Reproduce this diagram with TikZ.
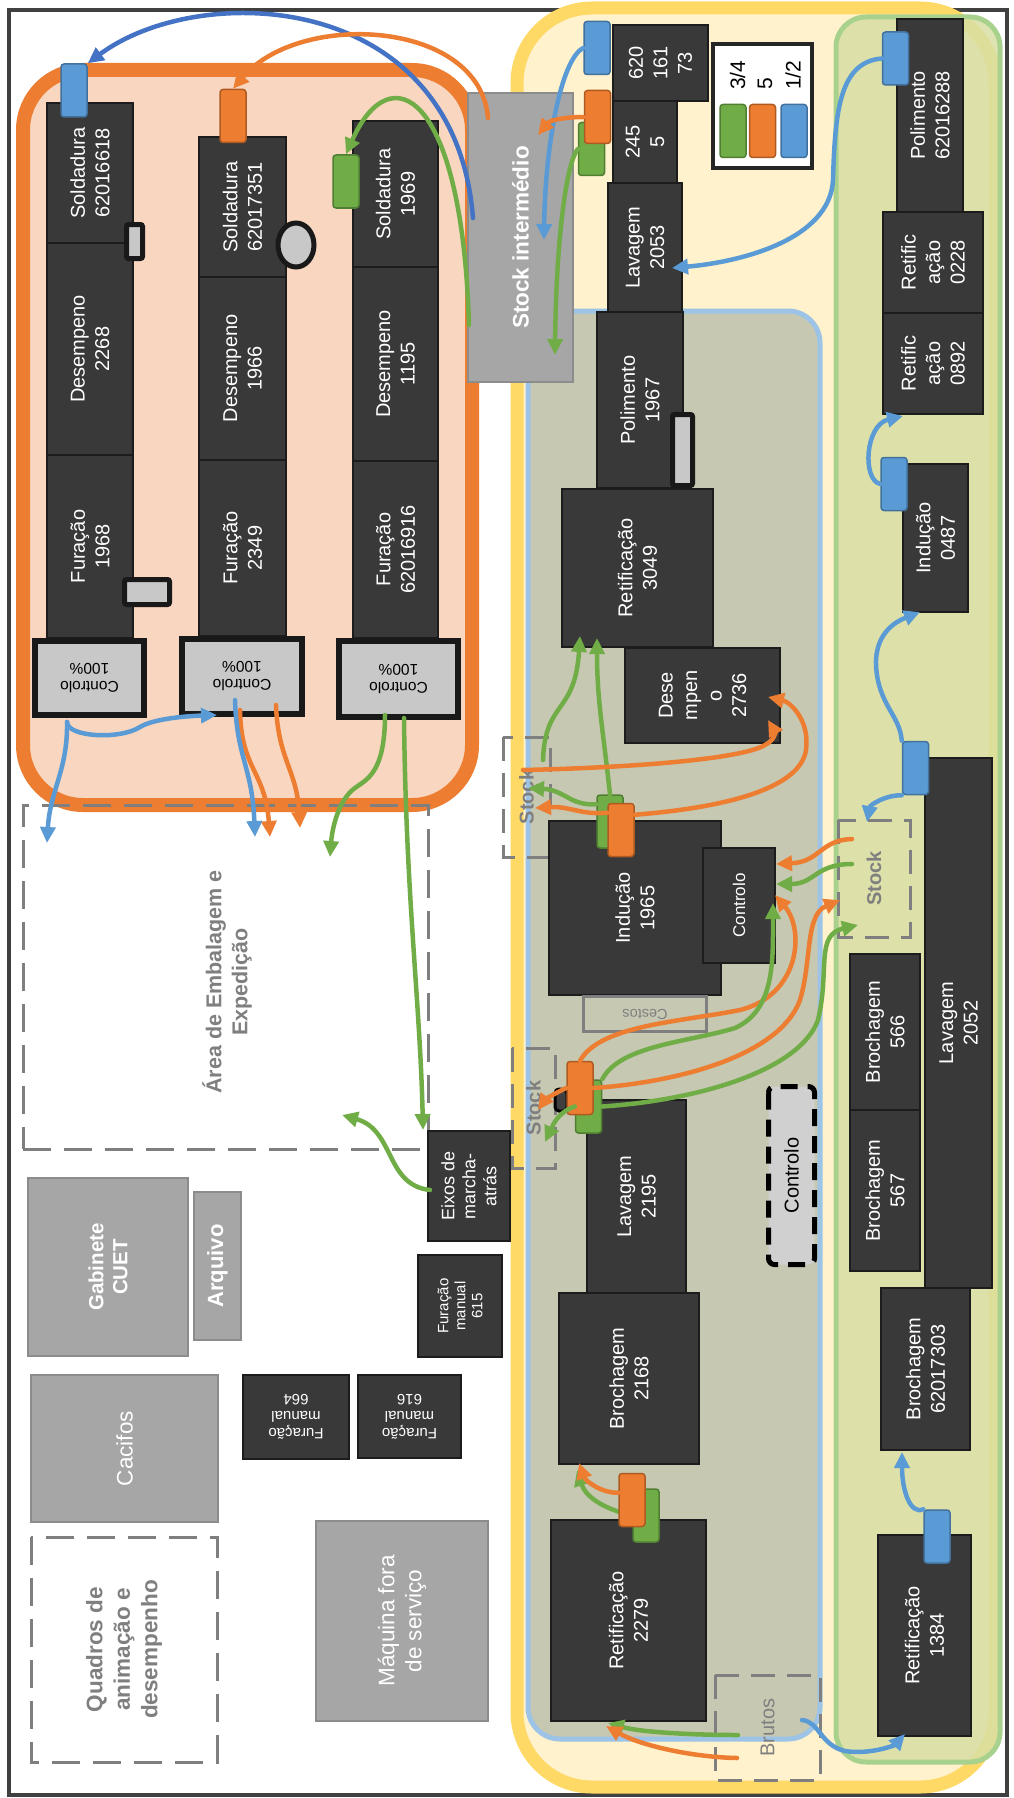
\documentclass[tikz,border=0pt]{standalone}
\usepackage{fontspec}
\setmainfont{Liberation Sans}
\usetikzlibrary{arrows.meta,shapes.geometric}
\definecolor{mfill}{HTML}{393939}
\definecolor{mline}{HTML}{1C1C1C}
\definecolor{framecol}{HTML}{404040}
\definecolor{orgline}{HTML}{ED7D31}
\definecolor{orgfill}{HTML}{F8D6BF}
\definecolor{yelline}{HTML}{FFD966}
\definecolor{yelfill}{HTML}{FFF2CC}
\definecolor{bluline}{HTML}{9DC3E6}
\definecolor{blufill}{HTML}{C6C8B2}
\definecolor{grnline}{HTML}{A9D18E}
\definecolor{grnfill}{HTML}{D8DFA4}
\definecolor{cblue}{HTML}{5B9BD5}
\definecolor{cdblue}{HTML}{4472C4}
\definecolor{corange}{HTML}{ED7D31}
\definecolor{cgreen}{HTML}{70AD47}
\definecolor{tagbline}{HTML}{41719C}
\definecolor{tagoline}{HTML}{AE5A21}
\definecolor{taggline}{HTML}{507E32}
\definecolor{grayfill}{HTML}{A6A6A6}
\definecolor{grayline}{HTML}{8C8C8C}
\definecolor{dashgray}{HTML}{7F7F7F}
\definecolor{ctrlfill}{HTML}{C8C8C8}

\begin{document}
\begin{tikzpicture}[x=1pt,y=-1pt,
mbase/.style={draw=mline,fill=mfill,line width=1.5pt,text=white,align=center,inner sep=0pt,font=\fontsize{20}{24.5}\selectfont},
mach/.style={mbase,rotate=90},
machflip/.style={mbase,rotate=180,font=\fontsize{15}{17}\selectfont},
wh/.style 2 args={minimum height=#1,minimum width=#2},
ctrl/.style={draw=black!90,fill=ctrlfill,line width=6pt,rotate=180,align=center,inner sep=0pt,font=\fontsize{15.5}{18}\selectfont},
graybox/.style={draw=grayline,fill=grayfill,line width=2.5pt,rotate=90,text=white,align=center,inner sep=0pt,font=\fontsize{22.5}{27}\selectfont},
marker/.style={draw=black!90,fill=ctrlfill,line width=5pt,rounded corners=2pt,inner sep=0pt},
dashbox/.style={draw=dashgray,line width=3pt,dash pattern=on 28pt off 13pt,inner sep=0pt},
stockbox/.style={dashbox,rotate=90,text=dashgray,dash pattern=on 24pt off 12pt,font=\fontsize{20}{24}\selectfont\bfseries},
tag/.style={rounded corners=3pt,line width=1.5pt,minimum width=26,minimum height=53,inner sep=0pt},
tagb/.style={tag,fill=cblue,draw=tagbline},
tago/.style={tag,fill=corange,draw=tagoline},
tagg/.style={tag,fill=cgreen,draw=taggline},
flow/.style={line width=4.5pt,line cap=round,-{Triangle[length=16pt,width=15pt]}},
fb/.style={flow,cblue},fo/.style={flow,corange},fg/.style={flow,cgreen}]
\useasboundingbox (0,0) rectangle (1014,1798);
\fill[white] (0,0) rectangle (1014,1798);
\draw[framecol,line width=4pt] (9,10) rectangle (1007,1795);

\draw[draw=orgline,fill=orgfill,line width=14pt,rounded corners=60pt] (23,70) rectangle (472,805);
\draw[draw=yelline,fill=yelfill,line width=13pt,rounded corners=75pt] (517,8) rectangle (995,1787);
\draw[draw=bluline,fill=blufill,line width=5pt,rounded corners=32pt] (528,311) rectangle (820,1739);
\draw[draw=grnline,fill=grnfill,fill opacity=.85,line width=5pt,rounded corners=30pt] (836,17) rectangle (1000,1762);

\node[dashbox,minimum width=405,minimum height=344] (embal) at (225.5,977) {};
\node[rotate=90,align=center,text=dashgray,font=\fontsize{21.5}{26}\selectfont\bfseries] (embaltxt) at (227,982) {Área de Embalagem e\\Expedição};
\node[dashbox,rotate=90,wh={186}{225},align=center,text=dashgray,font=\fontsize{22.5}{27.5}\selectfont\bfseries] (quadros) at (124,1649.5) {Quadros de\\animação e\\desempenho};
\node[stockbox,wh={47}{120}] (stk1) at (526.5,797) {Stock};
\node[stockbox,wh={43}{120}] (stk2) at (533.5,1108) {Stock};
\node[stockbox,wh={72}{117}] (stk3) at (874,878.5) {Stock};
\node[stockbox,wh={105}{105},font=\fontsize{20}{24}\selectfont] (brutos) at (767.5,1727.5) {Brutos};

\node[mach,wh={86}{140}] (sold1) at (90,173) {Soldadura\\62016618};
\node[mach,wh={86}{212}] (dese1) at (90,349) {Desempeno\\2268};
\node[mach,wh={86}{183}] (fura1) at (90,546.5) {Furação\\1968};
\node[ctrl,minimum width=109,minimum height=74] (ctrl1) at (89.5,678) {Controlo\\100\%};
\node[mach,wh={87}{140}] (sold2) at (242.5,207) {Soldadura\\62017351};
\node[mach,wh={87}{183}] (dese2) at (242.5,368.5) {Desempeno\\1966};
\node[mach,wh={87}{176}] (fura2) at (242.5,548) {Furação\\2349};
\node[ctrl,minimum width=120,minimum height=75] (ctrl2) at (242,676.5) {Controlo\\100\%};
\node[mach,wh={85}{146}] (sold3) at (395.5,194) {Soldadura\\1969};
\node[mach,wh={85}{194}] (dese3) at (395.5,364) {Desempeno\\1195};
\node[mach,wh={85}{177}] (fura3) at (395.5,549.5) {Furação\\62016916};
\node[ctrl,minimum width=119,minimum height=76] (ctrl3) at (398.5,679) {Controlo\\100\%};
\node[marker,minimum width=16,minimum height=34] (mk1) at (134.5,241.5) {};
\node[marker,ellipse,minimum width=36,minimum height=44] (mk2) at (296,245) {};
\node[marker,minimum width=45,minimum height=25] (mk3) at (147,592) {};
\node[graybox,wh={105}{289},font=\fontsize{22.5}{27}\selectfont\bfseries] (stockint) at (520.5,237.5) {Stock intermédio};

\node[mach,wh={95}{76}] (m62016173) at (660.5,63) {620\\161\\73};
\node[mach,wh={64}{82}] (m2455) at (645,142) {245\\5};
\node[mach,wh={74}{129}] (lav2053) at (645,247.5) {Lavagem\\2053};
\node[mach,wh={86}{176}] (pol1967) at (640,400) {Polimento\\1967};
\node[marker,minimum width=20,minimum height=71] (mk4) at (682.5,450) {};
\node[mach,wh={151}{158}] (ret3049) at (637.5,568) {Retificação\\3049};
\node[mach,wh={155}{95}] (des2736) at (702.5,695.5) {Dese\\mpen\\o\\2736};
\node[mach,wh={172}{174}] (ind1965) at (635,908) {Indução\\1965};
\node[mach,wh={72}{115},font=\fontsize{17}{20}\selectfont] (ctrlsm) at (739,905.5) {Controlo};
\node[draw=dashgray,line width=3pt,rotate=180,minimum width=123,minimum height=35,inner sep=0pt,text=dashgray,font=\fontsize{14.5}{17}\selectfont] (cestos) at (645,1014) {Cestos};
\node[mach,wh={99}{193}] (lav2195) at (636.5,1196.5) {Lavagem\\2195};
\node[mach,wh={140}{171}] (bro2168) at (629,1378.5) {Brochagem\\2168};
\node[mach,wh={155}{201}] (ret2279) at (628.5,1620.5) {Retificação\\2279};
\node[draw=black,line width=5pt,dash pattern=on 17pt off 10pt,rounded corners=6pt,fill=ctrlfill!85!white,rotate=90,wh={46}{178},inner sep=0pt,font=\fontsize{20}{24}\selectfont] (ctrlbig) at (791.5,1175.5) {Controlo};

\node[mach,wh={66}{193}] (pol6288) at (930,115.5) {Polimento\\62016288};
\node[mach,wh={100}{101}] (ret0228) at (933,262.5) {Retific\\ação\\0228};
\node[mach,wh={100}{101}] (ret0892) at (933,363.5) {Retific\\ação\\0892};
\node[mach,wh={65}{148}] (ind0487) at (935.5,538) {Indução\\0487};
\node[mach,wh={67}{530}] (lav2052) at (958.5,1023) {Lavagem\\2052};
\node[mach,wh={70}{156}] (bro566) at (885,1032) {Brochagem\\566};
\node[mach,wh={70}{161}] (bro567) at (885,1190.5) {Brochagem\\567};
\node[mach,wh={89}{162}] (bro7303) at (925.5,1369) {Brochagem\\62017303};
\node[mach,wh={93}{201}] (ret1384) at (924.5,1635.5) {Retificação\\1384};

\node[mach,wh={82}{110},font=\fontsize{18}{21}\selectfont] (eixos) at (469,1186) {Eixos de\\marcha-\\atrás};
\node[mach,wh={84}{102},font=\fontsize{15}{17}\selectfont] (fm615) at (460,1306) {Furação\\manual\\615};
\node[machflip,minimum width=106,minimum height=84] (fm664) at (296,1417) {Furação\\manual\\664};
\node[machflip,minimum width=103,minimum height=83] (fm616) at (409.5,1416.5) {Furação\\manual\\616};
\node[graybox,wh={160}{178},font=\fontsize{20.5}{24}\selectfont\bfseries] (gabinete) at (108,1267) {Gabinete\\CUET};
\node[graybox,wh={47}{148},font=\fontsize{22}{26}\selectfont\bfseries] (arquivo) at (217.5,1266) {Arquivo};
\node[graybox,wh={187}{147}] (cacifos) at (124.5,1448.5) {Cacifos};
\node[graybox,wh={172}{200}] (maquina) at (402,1621) {Máquina fora\\de serviço};

\node[draw=black!85,line width=4pt,fill=white,minimum width=99,minimum height=124,inner sep=0pt] (legend) at (762.5,106) {};
\node[tagg] (lgG) at (733,131) {};
\node[tago] (lgO) at (762.5,131) {};
\node[tagb] (lgB) at (794,131) {};
\node[rotate=90,anchor=west,inner sep=0pt,font=\fontsize{21}{24}\selectfont] (lg34) at (737.5,90) {3/4};
\node[rotate=90,anchor=west,inner sep=0pt,font=\fontsize{21}{24}\selectfont] (lg5) at (765,90) {5};
\node[rotate=90,anchor=west,inner sep=0pt,font=\fontsize{21}{24}\selectfont] (lg12) at (793,90) {1/2};

\node[tagb] (tagB1) at (74,90.5) {};
\node[tago] (tagO2) at (233,116) {};
\node[tagg] (tagG3) at (346,181.5) {};
\node[tagb] (tagBy) at (597,48) {};
\node[tagg] (tagGy) at (591.5,149) {};
\node[tago] (tagOy) at (597.5,117) {};
\node[tagg] (tagGi) at (610,821.5) {};
\node[tago] (tagOi) at (621,830) {};
\node[draw=black,line width=3pt,fill=black!75,rounded corners=4pt,minimum width=12,minimum height=22,inner sep=0pt] (hook) at (561,1100) {};
\node[tagg] (tagGl) at (588.5,1106.5) {};
\node[tago] (tagOl) at (580,1088) {};
\node[tagb] (tagB62) at (895.5,58.5) {};
\node[tagb] (tagB487) at (894,484) {};
\node[tagb] (tagB52) at (915.5,768) {};
\node[tagb] (tagB84) at (937,1536.5) {};

\coordinate (toBro2168b) at (577,1470);
\node[tagg] (tagGb) at (646,1515.5) {};
\draw[fg] (tagGb.west) .. controls (600,1508) and (585,1495) .. (toBro2168b);
\node[tago] (tagOb) at (632,1500) {};
\coordinate (toBro2168a) at (579,1463);
\draw[fo] ([yshift=-20pt]tagOb.north west) .. controls (600,1493) and (585,1480) .. (toBro2168a);

\coordinate (siB) at (473,218);
\coordinate (siO) at (488,118);
\coordinate (siG) at (469,325);
\draw[flow,cdblue] (siB) .. controls (455,-10) and (200,-20) .. (tagB1.north east);
\draw[fo] (siO) .. controls (480,20) and (300,10) .. (tagO2.north);
\draw[fg] (siG) .. controls (462,90) and (390,55) .. (tagG3.north);

\coordinate (inStockB) at (544,240);
\coordinate (inStockO) at (538,135);
\coordinate (inStockG) at (555,355);
\draw[fb] (tagBy.west) .. controls (560,60) and (545,150) .. (inStockB);
\draw[fo] (tagOy.west) .. controls (565,117) and (550,120) .. (inStockO);
\draw[fg] (tagGy.west) .. controls (565,165) and (556,250) .. (inStockG);

\coordinate (toLav2053) at (672,268);
\coordinate (toRet0892) at (903,416);
\coordinate (toInd0487) at (920,612);
\coordinate (toStockR) at (867,822);
\draw[fb] (tagB62.west) .. controls (840,62) and (835,110) .. (833,180) .. controls (830,240) and (740,262) .. (toLav2053);
\draw[fb] (tagB487.west) .. controls (862,480) and (865,425) .. (toRet0892);
\draw[fb] (tagB52.north west) .. controls (900,715) and (878,705) .. (876,665) .. controls (875,630) and (900,620) .. (toInd0487);
\draw[fb] (tagB52.south west) .. controls (885,795) and (870,805) .. (toStockR);

\coordinate (srO) at (852,839);
\coordinate (srG) at (852,864);
\coordinate (ctrlsmO) at (776,864);
\coordinate (ctrlsmG) at (776,884);
\draw[fo] (srO) .. controls (820,840) and (820,862) .. (ctrlsmO);
\draw[fg] (srG) .. controls (815,864) and (815,884) .. (ctrlsmG);

\coordinate (ctrlsmO2) at (775,895);
\coordinate (ctrlsmG2) at (773,903);
\coordinate (stockRO) at (840,900);
\coordinate (stockRG) at (858,925);
\coordinate (stkLO) at (538,1110);
\coordinate (stkLG) at (545,1142);
\draw[fo] (tagOl.north) .. controls (600,1025) and (680,1022) .. (740,1010) .. controls (800,995) and (805,930) .. (ctrlsmO2);
\draw[fg] (tagGl.north east) .. controls (620,1045) and (690,1042) .. (735,1028) .. controls (775,1010) and (773,960) .. (ctrlsmG2);
\draw[fo] (tagOl.east) .. controls (680,1082) and (780,1055) .. (800,1000) .. controls (812,960) and (805,915) .. (stockRO);
\draw[fg] (tagGl.east) .. controls (700,1100) and (800,1070) .. (818,1020) .. controls (830,970) and (815,935) .. (stockRG);
\draw[fo] (tagOl.west) .. controls (555,1093) and (545,1100) .. (stkLO);
\draw[fg] (tagGl.west) .. controls (558,1112) and (553,1125) .. (stkLG);

\coordinate (stkIO) at (535,808);
\coordinate (stkIG) at (528,788);
\coordinate (stkIGs) at (543,760);
\coordinate (stkIOs) at (523,770);
\coordinate (toRet3049a) at (597,638);
\coordinate (toRet3049b) at (580,636);
\coordinate (toDes2736a) at (768,720);
\coordinate (toDes2736b) at (768,697);
\draw[fo] ([yshift=-10pt]tagOi.north west) .. controls (580,815) and (570,806) .. (stkIO);
\draw[fg] ([yshift=-10pt]tagGi.north west) .. controls (570,806) and (565,790) .. (stkIG);
\draw[fg] (tagGi.north) .. controls (603,730) and (597,700) .. (toRet3049a);
\draw[fg] (stkIGs) .. controls (545,700) and (575,715) .. (toRet3049b);
\draw[fo] (stkIOs) .. controls (620,768) and (740,760) .. (765,745) .. controls (775,740) and (775,732) .. (toDes2736a);
\draw[fo] ([yshift=-12pt]tagOi.north east) .. controls (720,808) and (800,790) .. (806,750) .. controls (810,720) and (790,702) .. (toDes2736b);

\coordinate (toBro7303) at (902,1452);
\draw[fb] (tagB84.north west) .. controls (910,1515) and (902,1490) .. (toBro7303);

\coordinate (brG) at (738,1735);
\coordinate (brO) at (737,1758);
\coordinate (brB) at (802,1720);
\coordinate (toRet2279g) at (608,1723);
\coordinate (toRet2279o) at (606,1726);
\coordinate (toRet1384) at (905,1734);
\draw[fg] (brG) .. controls (690,1735) and (640,1732) .. (toRet2279g);
\draw[fo] (brO) .. controls (690,1757) and (640,1745) .. (toRet2279o);
\draw[fb] (brB) .. controls (820,1722) and (820,1745) .. (845,1751) .. controls (870,1755) and (895,1745) .. (toRet1384);

\coordinate (c1out) at (67,722);
\coordinate (toCtrl2) at (217,715);
\coordinate (outEmb1) at (47,843);
\coordinate (c2outB) at (235,700);
\coordinate (c2outO) at (240,710);
\coordinate (c2outO2) at (276,705);
\coordinate (outEmb2) at (255,837);
\coordinate (outEmb3) at (270,837);
\coordinate (outEmb4) at (300,828);
\coordinate (c3outG) at (385,715);
\coordinate (c3outG2) at (404,718);
\coordinate (outEmb5) at (330,857);
\coordinate (toEixos) at (423,1130);
\coordinate (eixosOut) at (430,1190);
\coordinate (toEmb) at (342,1115);
\draw[fb] (c1out) .. controls (67,737) and (120,740) .. (140,727) .. controls (155,718) and (190,716) .. (toCtrl2);
\draw[fb] (c1out) .. controls (68,770) and (50,790) .. (outEmb1);
\draw[fo] (c2outO) .. controls (241,770) and (265,770) .. (outEmb3);
\draw[fb] (c2outB) .. controls (237,760) and (252,765) .. (outEmb2);
\draw[fo] (c2outO2) .. controls (278,760) and (297,770) .. (outEmb4);
\draw[fg] (c3outG) .. controls (385,775) and (365,780) .. (355,788) .. controls (338,800) and (332,830) .. (outEmb5);
\draw[fg] (c3outG2) .. controls (406,900) and (420,1000) .. (toEixos);
\draw[fg] (eixosOut) .. controls (385,1185) and (395,1130) .. (toEmb);
\end{tikzpicture}
\end{document}
